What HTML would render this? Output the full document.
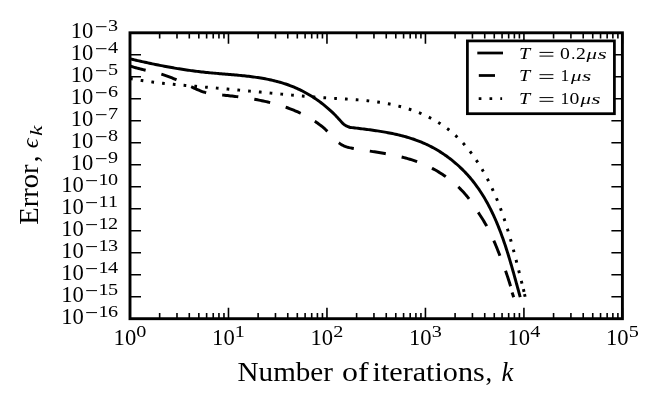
<!DOCTYPE html>
<html><head><meta charset="utf-8"><title>Error vs iterations</title>
<style>html,body{margin:0;padding:0;background:#fff;}svg{display:block;will-change:transform;filter:grayscale(1);}text{font-family:"Liberation Serif", serif;fill:#000;}</style>
</head><body>
<svg width="664" height="410" viewBox="0 0 664 410">
<rect x="0" y="0" width="664" height="410" fill="#fff"/>
<defs><clipPath id="ax"><rect x="130.00" y="32.80" width="492.40" height="285.90"/></clipPath></defs>
<g clip-path="url(#ax)" fill="none" stroke="#000" stroke-width="2.95" stroke-linejoin="round">
<path d="M129.96,58.83 L131.47,59.18 L132.97,59.53 L134.47,59.88 L135.97,60.23 L137.47,60.57 L138.97,60.91 L140.47,61.24 L141.96,61.58 L143.45,61.91 L144.94,62.24 L146.44,62.56 L147.92,62.88 L149.41,63.20 L150.90,63.52 L152.39,63.83 L153.87,64.14 L155.36,64.44 L156.85,64.75 L158.33,65.04 L159.81,65.34 L161.30,65.63 L162.78,65.92 L164.27,66.20 L165.75,66.48 L167.23,66.76 L168.72,67.03 L170.20,67.30 L171.68,67.56 L173.17,67.82 L174.65,68.08 L176.14,68.33 L177.62,68.58 L179.11,68.82 L180.60,69.06 L182.09,69.30 L183.57,69.53 L185.06,69.76 L186.56,69.98 L188.05,70.19 L189.54,70.41 L191.04,70.61 L192.53,70.82 L194.03,71.01 L195.53,71.21 L197.03,71.39 L198.53,71.58 L200.04,71.75 L201.54,71.93 L203.05,72.09 L204.56,72.26 L206.07,72.41 L207.59,72.57 L209.10,72.71 L210.62,72.86 L212.14,73.00 L213.66,73.13 L215.18,73.27 L216.71,73.40 L218.23,73.53 L219.75,73.66 L221.28,73.78 L222.81,73.91 L224.33,74.04 L225.86,74.16 L227.39,74.29 L228.92,74.42 L230.44,74.54 L231.97,74.67 L233.50,74.81 L235.03,74.94 L236.55,75.08 L238.08,75.22 L239.60,75.37 L241.12,75.52 L242.65,75.67 L244.17,75.83 L245.69,76.00 L247.20,76.17 L248.72,76.34 L250.24,76.53 L251.75,76.72 L253.26,76.92 L254.77,77.12 L256.27,77.34 L257.78,77.56 L259.28,77.79 L260.78,78.03 L262.27,78.29 L263.76,78.55 L265.25,78.82 L266.74,79.11 L268.22,79.40 L269.70,79.71 L271.17,80.03 L272.64,80.37 L274.11,80.71 L275.57,81.07 L277.03,81.45 L278.49,81.84 L279.94,82.24 L281.38,82.66 L282.82,83.10 L284.26,83.55 L285.69,84.02 L287.11,84.50 L288.53,85.01 L289.95,85.53 L291.35,86.07 L292.76,86.62 L294.15,87.20 L295.54,87.79 L296.93,88.41 L298.31,89.04 L299.68,89.69 L301.04,90.35 L302.40,91.03 L303.74,91.73 L305.09,92.45 L306.42,93.18 L307.74,93.93 L309.06,94.70 L310.36,95.48 L311.66,96.28 L312.95,97.10 L314.23,97.93 L315.50,98.77 L316.76,99.64 L318.01,100.51 L319.25,101.40 L320.48,102.31 L321.70,103.23 L322.90,104.16 L324.10,105.11 L325.28,106.07 L326.46,107.05 L327.62,108.04 L328.76,109.04 L329.90,110.06 L331.02,111.09 L332.13,112.13 L333.23,113.18 L334.31,114.25 L335.39,115.33 L336.44,116.42 L337.48,117.52 L338.51,118.64 L339.53,119.76 L340.52,120.90 L341.52,122.03 L342.55,123.12 L343.64,124.14 L344.82,125.06 L346.11,125.85 L347.56,126.46 L349.18,126.88 L349.14,127.26 L350.60,127.44 L352.06,127.61 L353.53,127.78 L355.00,127.96 L356.47,128.13 L357.95,128.31 L359.43,128.49 L360.92,128.67 L362.41,128.85 L363.90,129.04 L365.39,129.23 L366.89,129.42 L368.39,129.62 L369.89,129.82 L371.39,130.02 L372.89,130.23 L374.39,130.45 L375.90,130.67 L377.40,130.89 L378.91,131.13 L380.41,131.37 L381.92,131.61 L383.42,131.87 L384.92,132.13 L386.43,132.40 L387.93,132.68 L389.43,132.96 L390.92,133.26 L392.42,133.56 L393.91,133.88 L395.40,134.20 L396.89,134.54 L398.37,134.89 L399.85,135.24 L401.33,135.61 L402.80,135.99 L404.27,136.39 L405.74,136.79 L407.20,137.21 L408.65,137.64 L410.10,138.09 L411.55,138.55 L412.99,139.02 L414.42,139.51 L415.85,140.02 L417.27,140.54 L418.68,141.07 L420.09,141.62 L421.49,142.19 L422.88,142.77 L424.26,143.37 L425.64,143.99 L427.01,144.63 L428.37,145.28 L429.72,145.95 L431.06,146.63 L432.40,147.34 L433.72,148.05 L435.04,148.79 L436.35,149.53 L437.65,150.30 L438.94,151.08 L440.22,151.87 L441.49,152.68 L442.75,153.51 L444.00,154.35 L445.24,155.20 L446.47,156.07 L447.69,156.96 L448.90,157.85 L450.10,158.76 L451.29,159.69 L452.47,160.63 L453.64,161.58 L454.79,162.54 L455.94,163.52 L457.07,164.51 L458.19,165.51 L459.30,166.53 L460.40,167.56 L461.49,168.60 L462.56,169.65 L463.62,170.72 L464.67,171.79 L465.71,172.88 L466.73,173.98 L467.75,175.09 L468.74,176.21 L469.73,177.34 L470.70,178.49 L471.66,179.64 L472.61,180.80 L473.54,181.98 L474.46,183.16 L475.36,184.35 L476.26,185.56 L477.14,186.77 L478.00,187.99 L478.86,189.22 L479.70,190.46 L480.53,191.71 L481.35,192.97 L482.16,194.23 L482.95,195.51 L483.74,196.79 L484.51,198.08 L485.27,199.38 L486.02,200.68 L486.76,202.00 L487.49,203.31 L488.20,204.64 L488.91,205.97 L489.61,207.31 L490.30,208.66 L490.98,210.01 L491.64,211.37 L492.30,212.74 L492.95,214.11 L493.59,215.48 L494.22,216.86 L494.85,218.25 L495.46,219.64 L496.06,221.03 L496.66,222.43 L497.25,223.84 L497.83,225.25 L498.40,226.66 L498.97,228.08 L499.52,229.50 L500.08,230.92 L500.62,232.35 L501.15,233.78 L501.68,235.22 L502.20,236.65 L502.72,238.09 L503.23,239.54 L503.73,240.98 L504.23,242.43 L504.72,243.87 L505.21,245.32 L505.69,246.78 L506.16,248.23 L506.63,249.68 L507.09,251.14 L507.55,252.59 L508.01,254.05 L508.46,255.51 L508.90,256.97 L509.34,258.42 L509.78,259.88 L510.21,261.34 L510.64,262.80 L511.07,264.25 L511.49,265.71 L511.91,267.16 L512.33,268.62 L512.74,270.07 L513.15,271.52 L513.56,272.97 L513.96,274.42 L514.37,275.86 L514.77,277.30 L515.17,278.74 L515.57,280.18 L515.96,281.62 L516.35,283.05 L516.75,284.48 L517.14,285.91 L517.53,287.33 L517.92,288.75 L518.31,290.16 L518.70,291.58 L519.09,292.98 L519.48,294.39 L519.86,295.78 L520.25,297.18"/>
<path d="M130.00,65.99 L131.42,66.47 L132.85,66.92 L134.29,67.35 L135.74,67.76 L137.19,68.15 L138.66,68.53 L140.12,68.90 L141.59,69.26 L143.07,69.60 L144.55,69.94 L146.02,70.28 L147.51,70.62 L148.99,70.95 L150.47,71.29 L151.95,71.63 L153.42,71.98 L154.89,72.34 L156.36,72.71 L157.83,73.10 L159.28,73.50 L160.74,73.91 L162.18,74.35 L163.61,74.81 L165.04,75.29 L166.46,75.78 L167.87,76.30 L169.28,76.83 L170.68,77.38 L172.07,77.94 L173.46,78.52 L174.85,79.11 L176.23,79.71 L177.60,80.32 L178.98,80.94 L180.35,81.57 L181.71,82.21 L183.08,82.85 L184.44,83.49 L185.81,84.14 L187.17,84.79 L188.53,85.45 L189.89,86.10 L191.26,86.75 L192.62,87.40 L193.99,88.05 L195.36,88.68 L196.73,89.30 L198.11,89.90 L199.50,90.48 L200.90,91.02 L202.31,91.54 L203.73,92.02 L205.16,92.45 L206.61,92.84 L208.07,93.18 L209.54,93.48 L211.02,93.75 L212.51,93.98 L214.01,94.19 L215.51,94.37 L217.02,94.54 L218.53,94.69 L220.04,94.84 L221.56,94.99 L223.07,95.13 L224.57,95.28 L226.08,95.44 L227.58,95.59 L229.09,95.75 L230.59,95.92 L232.08,96.08 L233.58,96.25 L235.08,96.43 L236.57,96.61 L238.07,96.80 L239.56,96.99 L241.05,97.18 L242.54,97.39 L244.03,97.60 L245.52,97.81 L247.01,98.03 L248.50,98.26 L249.98,98.50 L251.47,98.74 L252.96,98.99 L254.44,99.25 L255.93,99.52 L257.41,99.80 L258.90,100.09 L260.38,100.38 L261.86,100.69 L263.34,101.00 L264.82,101.32 L266.30,101.66 L267.77,102.00 L269.25,102.36 L270.72,102.72 L272.18,103.10 L273.65,103.48 L275.11,103.88 L276.57,104.29 L278.02,104.71 L279.47,105.15 L280.91,105.59 L282.35,106.05 L283.79,106.52 L285.22,107.00 L286.65,107.50 L288.07,108.01 L289.48,108.54 L290.89,109.07 L292.29,109.62 L293.69,110.19 L295.08,110.77 L296.46,111.36 L297.84,111.97 L299.20,112.60 L300.56,113.24 L301.92,113.89 L303.26,114.57 L304.60,115.25 L305.93,115.96 L307.25,116.68 L308.56,117.41 L309.86,118.17 L311.15,118.94 L312.43,119.72 L313.70,120.53 L314.96,121.35 L316.21,122.20 L317.45,123.06 L318.68,123.94 L319.89,124.84 L321.09,125.77 L322.28,126.72 L323.45,127.70 L324.60,128.71 L325.73,129.75 L326.84,130.81 L327.93,131.91 L329.01,133.03 L330.07,134.17 L331.13,135.32 L332.18,136.46 L333.24,137.60 L334.30,138.71 L335.38,139.79 L336.48,140.83 L337.61,141.82 L338.76,142.76 L339.95,143.62 L341.17,144.42 L342.44,145.13 L343.73,145.78 L345.07,146.34 L346.45,146.82 L347.85,147.23 L349.29,147.59 L350.74,147.90 L352.21,148.19 L353.68,148.46 L355.16,148.72 L356.63,148.98 L358.11,149.23 L359.60,149.48 L361.08,149.72 L362.57,149.96 L364.05,150.20 L365.54,150.43 L367.03,150.67 L368.52,150.90 L370.01,151.13 L371.50,151.37 L372.99,151.60 L374.48,151.83 L375.97,152.07 L377.46,152.31 L378.95,152.55 L380.44,152.79 L381.93,153.04 L383.42,153.30 L384.91,153.56 L386.39,153.82 L387.88,154.09 L389.36,154.37 L390.84,154.65 L392.32,154.94 L393.80,155.24 L395.27,155.55 L396.74,155.87 L398.21,156.20 L399.68,156.54 L401.15,156.89 L402.61,157.25 L404.07,157.63 L405.52,158.01 L406.97,158.41 L408.42,158.83 L409.86,159.26 L411.30,159.70 L412.74,160.16 L414.17,160.63 L415.60,161.13 L417.02,161.64 L418.43,162.16 L419.85,162.71 L421.25,163.27 L422.65,163.85 L424.05,164.44 L425.43,165.06 L426.81,165.69 L428.19,166.34 L429.55,167.00 L430.91,167.68 L432.26,168.38 L433.60,169.09 L434.93,169.83 L436.26,170.57 L437.57,171.34 L438.87,172.12 L440.17,172.91 L441.45,173.73 L442.72,174.56 L443.98,175.40 L445.23,176.26 L446.47,177.14 L447.70,178.03 L448.91,178.94 L450.11,179.86 L451.30,180.80 L452.47,181.75 L453.63,182.72 L454.78,183.70 L455.91,184.70 L457.02,185.72 L458.13,186.74 L459.21,187.79 L460.28,188.85 L461.34,189.92 L462.37,191.01 L463.39,192.11 L464.40,193.22 L465.39,194.35 L466.35,195.50 L467.31,196.65 L468.24,197.83 L469.15,199.01 L470.05,200.21 L470.93,201.42 L471.79,202.64 L472.65,203.87 L473.49,205.11 L474.32,206.36 L475.15,207.62 L475.98,208.87 L476.80,210.14 L477.62,211.40 L478.44,212.67 L479.26,213.94 L480.08,215.21 L480.90,216.48 L481.71,217.76 L482.51,219.04 L483.31,220.33 L484.10,221.62 L484.87,222.92 L485.63,224.22 L486.38,225.54 L487.11,226.86 L487.83,228.19 L488.53,229.52 L489.22,230.86 L489.90,232.21 L490.56,233.56 L491.21,234.92 L491.85,236.29 L492.48,237.66 L493.10,239.04 L493.70,240.42 L494.30,241.80 L494.90,243.19 L495.48,244.58 L496.06,245.97 L496.63,247.37 L497.19,248.77 L497.75,250.18 L498.31,251.58 L498.86,252.99 L499.41,254.39 L499.95,255.80 L500.49,257.21 L501.03,258.62 L501.57,260.03 L502.11,261.44 L502.64,262.86 L503.16,264.27 L503.69,265.69 L504.21,267.10 L504.72,268.52 L505.23,269.94 L505.73,271.36 L506.23,272.79 L506.72,274.21 L507.21,275.64 L507.69,277.07 L508.16,278.50 L508.63,279.93 L509.08,281.37 L509.53,282.81 L509.98,284.25 L510.41,285.69 L510.84,287.14 L511.26,288.59 L511.67,290.04 L512.07,291.49 L512.46,292.95 L512.84,294.41 L513.21,295.87 L513.57,297.34" stroke-dasharray="16.2 16.2"/>
<path d="M130.02,78.54 L131.50,78.82 L132.99,79.09 L134.48,79.35 L135.96,79.60 L137.45,79.85 L138.94,80.09 L140.43,80.33 L141.92,80.56 L143.41,80.79 L144.90,81.01 L146.40,81.22 L147.89,81.43 L149.38,81.63 L150.88,81.83 L152.37,82.02 L153.87,82.21 L155.36,82.40 L156.86,82.58 L158.35,82.75 L159.85,82.93 L161.35,83.10 L162.85,83.26 L164.34,83.42 L165.84,83.58 L167.34,83.74 L168.84,83.89 L170.34,84.04 L171.84,84.19 L173.34,84.33 L174.84,84.47 L176.35,84.61 L177.85,84.75 L179.35,84.89 L180.85,85.02 L182.35,85.16 L183.86,85.29 L185.36,85.42 L186.86,85.55 L188.36,85.68 L189.87,85.81 L191.37,85.94 L192.88,86.07 L194.38,86.20 L195.88,86.32 L197.39,86.45 L198.89,86.58 L200.39,86.71 L201.90,86.84 L203.40,86.97 L204.91,87.09 L206.41,87.22 L207.92,87.35 L209.42,87.48 L210.92,87.61 L212.43,87.74 L213.93,87.87 L215.44,88.00 L216.94,88.13 L218.45,88.26 L219.95,88.39 L221.45,88.53 L222.96,88.66 L224.46,88.79 L225.97,88.92 L227.47,89.05 L228.97,89.19 L230.48,89.32 L231.98,89.45 L233.48,89.59 L234.99,89.72 L236.49,89.86 L237.99,89.99 L239.49,90.13 L241.00,90.27 L242.50,90.40 L244.00,90.54 L245.50,90.68 L247.00,90.82 L248.51,90.96 L250.01,91.10 L251.51,91.24 L253.01,91.38 L254.51,91.52 L256.01,91.66 L257.51,91.81 L259.01,91.95 L260.51,92.09 L262.00,92.24 L263.50,92.38 L265.00,92.53 L266.50,92.67 L268.00,92.82 L269.49,92.97 L270.99,93.11 L272.49,93.26 L273.99,93.41 L275.48,93.56 L276.98,93.70 L278.48,93.85 L279.97,93.99 L281.47,94.14 L282.97,94.29 L284.46,94.43 L285.96,94.57 L287.46,94.72 L288.96,94.86 L290.45,95.00 L291.95,95.14 L293.45,95.28 L294.95,95.42 L296.44,95.56 L297.94,95.69 L299.44,95.83 L300.94,95.96 L302.44,96.09 L303.94,96.22 L305.44,96.35 L306.94,96.47 L308.44,96.60 L309.94,96.72 L311.44,96.84 L312.95,96.96 L314.45,97.07 L315.95,97.19 L317.46,97.30 L318.96,97.41 L320.47,97.51 L321.97,97.62 L323.48,97.72 L324.99,97.82 L326.49,97.91 L328.00,98.00 L329.51,98.09 L331.02,98.18 L332.53,98.27 L334.04,98.36 L335.55,98.44 L337.06,98.53 L338.58,98.62 L340.09,98.70 L341.60,98.79 L343.11,98.88 L344.62,98.97 L346.13,99.06 L347.65,99.15 L349.16,99.25 L350.67,99.35 L352.18,99.45 L353.69,99.55 L355.20,99.66 L356.71,99.78 L358.22,99.90 L359.73,100.02 L361.24,100.15 L362.74,100.28 L364.25,100.42 L365.76,100.57 L367.26,100.72 L368.77,100.88 L370.27,101.05 L371.77,101.22 L373.27,101.40 L374.77,101.59 L376.27,101.79 L377.77,102.00 L379.26,102.22 L380.76,102.45 L382.25,102.69 L383.75,102.94 L385.24,103.20 L386.72,103.47 L388.21,103.75 L389.70,104.04 L391.18,104.35 L392.66,104.67 L394.14,105.00 L395.62,105.34 L397.09,105.70 L398.56,106.06 L400.03,106.45 L401.49,106.84 L402.95,107.25 L404.41,107.67 L405.86,108.10 L407.31,108.54 L408.75,109.00 L410.19,109.48 L411.62,109.96 L413.04,110.46 L414.46,110.98 L415.88,111.51 L417.28,112.05 L418.68,112.60 L420.08,113.17 L421.46,113.76 L422.84,114.36 L424.21,114.97 L425.58,115.60 L426.93,116.24 L428.28,116.90 L429.62,117.57 L430.95,118.26 L432.27,118.96 L433.58,119.68 L434.88,120.41 L436.17,121.16 L437.45,121.92 L438.72,122.70 L439.98,123.50 L441.23,124.31 L442.47,125.14 L443.69,125.98 L444.91,126.84 L446.11,127.72 L447.30,128.61 L448.48,129.52 L449.64,130.45 L450.79,131.39 L451.93,132.35 L453.06,133.32 L454.17,134.31 L455.28,135.31 L456.37,136.33 L457.45,137.36 L458.51,138.41 L459.57,139.47 L460.61,140.54 L461.64,141.63 L462.66,142.73 L463.67,143.84 L464.66,144.97 L465.64,146.10 L466.62,147.25 L467.58,148.41 L468.53,149.58 L469.47,150.76 L470.39,151.96 L471.31,153.16 L472.21,154.37 L473.11,155.59 L473.99,156.83 L474.86,158.07 L475.73,159.32 L476.58,160.57 L477.42,161.84 L478.25,163.11 L479.07,164.40 L479.87,165.68 L480.67,166.98 L481.46,168.28 L482.24,169.59 L483.01,170.90 L483.77,172.23 L484.51,173.55 L485.25,174.88 L485.98,176.22 L486.70,177.56 L487.41,178.90 L488.11,180.25 L488.80,181.61 L489.48,182.96 L490.15,184.32 L490.81,185.69 L491.46,187.05 L492.11,188.42 L492.74,189.80 L493.37,191.17 L493.99,192.55 L494.60,193.94 L495.20,195.33 L495.79,196.72 L496.38,198.11 L496.96,199.50 L497.53,200.90 L498.09,202.30 L498.65,203.71 L499.20,205.12 L499.74,206.52 L500.28,207.94 L500.80,209.35 L501.32,210.77 L501.84,212.19 L502.35,213.61 L502.85,215.03 L503.35,216.46 L503.84,217.89 L504.32,219.32 L504.80,220.75 L505.27,222.18 L505.74,223.62 L506.20,225.06 L506.66,226.50 L507.11,227.94 L507.56,229.38 L508.00,230.82 L508.44,232.27 L508.87,233.72 L509.30,235.16 L509.73,236.61 L510.15,238.06 L510.56,239.51 L510.98,240.97 L511.39,242.42 L511.79,243.88 L512.19,245.33 L512.59,246.79 L512.99,248.24 L513.38,249.70 L513.77,251.16 L514.16,252.62 L514.54,254.08 L514.93,255.54 L515.31,257.00 L515.68,258.46 L516.06,259.92 L516.43,261.38 L516.81,262.84 L517.18,264.30 L517.55,265.76 L517.91,267.22 L518.28,268.68 L518.64,270.14 L519.01,271.60 L519.37,273.06 L519.74,274.52 L520.10,275.98 L520.46,277.43 L520.82,278.89 L521.18,280.35 L521.54,281.80 L521.91,283.26 L522.27,284.71 L522.63,286.17" stroke-dasharray="2.7 8.1"/>
<path d="M523.40,289.18 L524.00,291.82"/>
<path d="M524.50,294.08 L525.10,296.72"/>
<path d="M512.1,292.6 L513.7,297.3"/>
</g>
<g stroke="#000" stroke-width="1.60" fill="none">
<path d="M130.00,318.70 v-11.00 M130.00,32.80 v11.00"/>
<path d="M159.65,318.70 v-5.80 M159.65,32.80 v5.80"/>
<path d="M176.99,318.70 v-5.80 M176.99,32.80 v5.80"/>
<path d="M189.29,318.70 v-5.80 M189.29,32.80 v5.80"/>
<path d="M198.83,318.70 v-5.80 M198.83,32.80 v5.80"/>
<path d="M206.63,318.70 v-5.80 M206.63,32.80 v5.80"/>
<path d="M213.23,318.70 v-5.80 M213.23,32.80 v5.80"/>
<path d="M218.94,318.70 v-5.80 M218.94,32.80 v5.80"/>
<path d="M223.97,318.70 v-5.80 M223.97,32.80 v5.80"/>
<path d="M228.48,318.70 v-11.00 M228.48,32.80 v11.00"/>
<path d="M258.13,318.70 v-5.80 M258.13,32.80 v5.80"/>
<path d="M275.47,318.70 v-5.80 M275.47,32.80 v5.80"/>
<path d="M287.77,318.70 v-5.80 M287.77,32.80 v5.80"/>
<path d="M297.31,318.70 v-5.80 M297.31,32.80 v5.80"/>
<path d="M305.11,318.70 v-5.80 M305.11,32.80 v5.80"/>
<path d="M311.71,318.70 v-5.80 M311.71,32.80 v5.80"/>
<path d="M317.42,318.70 v-5.80 M317.42,32.80 v5.80"/>
<path d="M322.45,318.70 v-5.80 M322.45,32.80 v5.80"/>
<path d="M326.96,318.70 v-11.00 M326.96,32.80 v11.00"/>
<path d="M356.61,318.70 v-5.80 M356.61,32.80 v5.80"/>
<path d="M373.95,318.70 v-5.80 M373.95,32.80 v5.80"/>
<path d="M386.25,318.70 v-5.80 M386.25,32.80 v5.80"/>
<path d="M395.79,318.70 v-5.80 M395.79,32.80 v5.80"/>
<path d="M403.59,318.70 v-5.80 M403.59,32.80 v5.80"/>
<path d="M410.19,318.70 v-5.80 M410.19,32.80 v5.80"/>
<path d="M415.90,318.70 v-5.80 M415.90,32.80 v5.80"/>
<path d="M420.93,318.70 v-5.80 M420.93,32.80 v5.80"/>
<path d="M425.44,318.70 v-11.00 M425.44,32.80 v11.00"/>
<path d="M455.09,318.70 v-5.80 M455.09,32.80 v5.80"/>
<path d="M472.43,318.70 v-5.80 M472.43,32.80 v5.80"/>
<path d="M484.73,318.70 v-5.80 M484.73,32.80 v5.80"/>
<path d="M494.27,318.70 v-5.80 M494.27,32.80 v5.80"/>
<path d="M502.07,318.70 v-5.80 M502.07,32.80 v5.80"/>
<path d="M508.67,318.70 v-5.80 M508.67,32.80 v5.80"/>
<path d="M514.38,318.70 v-5.80 M514.38,32.80 v5.80"/>
<path d="M519.41,318.70 v-5.80 M519.41,32.80 v5.80"/>
<path d="M523.92,318.70 v-11.00 M523.92,32.80 v11.00"/>
<path d="M553.57,318.70 v-5.80 M553.57,32.80 v5.80"/>
<path d="M570.91,318.70 v-5.80 M570.91,32.80 v5.80"/>
<path d="M583.21,318.70 v-5.80 M583.21,32.80 v5.80"/>
<path d="M592.75,318.70 v-5.80 M592.75,32.80 v5.80"/>
<path d="M600.55,318.70 v-5.80 M600.55,32.80 v5.80"/>
<path d="M607.15,318.70 v-5.80 M607.15,32.80 v5.80"/>
<path d="M612.86,318.70 v-5.80 M612.86,32.80 v5.80"/>
<path d="M617.89,318.70 v-5.80 M617.89,32.80 v5.80"/>
<path d="M622.40,318.70 v-11.00 M622.40,32.80 v11.00"/>
<path d="M130.00,32.80 h11.00 M622.40,32.80 h-11.00"/>
<path d="M130.00,54.79 h11.00 M622.40,54.79 h-11.00"/>
<path d="M130.00,76.78 h11.00 M622.40,76.78 h-11.00"/>
<path d="M130.00,98.78 h11.00 M622.40,98.78 h-11.00"/>
<path d="M130.00,120.77 h11.00 M622.40,120.77 h-11.00"/>
<path d="M130.00,142.76 h11.00 M622.40,142.76 h-11.00"/>
<path d="M130.00,164.75 h11.00 M622.40,164.75 h-11.00"/>
<path d="M130.00,186.75 h11.00 M622.40,186.75 h-11.00"/>
<path d="M130.00,208.74 h11.00 M622.40,208.74 h-11.00"/>
<path d="M130.00,230.73 h11.00 M622.40,230.73 h-11.00"/>
<path d="M130.00,252.72 h11.00 M622.40,252.72 h-11.00"/>
<path d="M130.00,274.72 h11.00 M622.40,274.72 h-11.00"/>
<path d="M130.00,296.71 h11.00 M622.40,296.71 h-11.00"/>
<path d="M130.00,318.70 h11.00 M622.40,318.70 h-11.00"/>
</g>
<rect x="467.40" y="40.90" width="147.00" height="72.80" fill="#fff" stroke="#000" stroke-width="2.75"/>
<g stroke="#000" stroke-width="2.75" fill="none">
<path d="M477.3,53 H503"/>
<path d="M478.8,75.5 H503" stroke-dasharray="16.2 16.2"/>
<path d="M478.7,98.6 H502.1" stroke-dasharray="2.7 8.1"/>
</g>
<text transform="translate(519.00 58.60) scale(1.260 1.000)" font-size="16.00" font-style="italic">T</text>
<path d="M539.50,52.40 H553.40 M539.50,56.10 H553.40" stroke="#000" stroke-width="1.0" fill="none"/>
<text transform="translate(560.00 58.60) scale(1.230 1.000)" font-size="16.00">0</text>
<text transform="translate(571.20 58.60) scale(1.000 1.000)" font-size="16.00">.</text>
<text transform="translate(576.00 58.60) scale(1.230 1.000)" font-size="16.00">2</text>
<text transform="translate(586.60 58.60) scale(1.500 1.000)" font-size="13.90" font-style="italic">μ</text>
<text transform="translate(597.40 58.60) scale(1.720 1.000)" font-size="13.90" font-style="italic">s</text>
<text transform="translate(519.00 80.90) scale(1.260 1.000)" font-size="16.00" font-style="italic">T</text>
<path d="M539.50,74.70 H553.40 M539.50,78.40 H553.40" stroke="#000" stroke-width="1.0" fill="none"/>
<text transform="translate(560.60 80.90) scale(1.100 1.000)" font-size="16.00">1</text>
<text transform="translate(571.00 80.90) scale(1.500 1.000)" font-size="13.90" font-style="italic">μ</text>
<text transform="translate(582.00 80.90) scale(1.720 1.000)" font-size="13.90" font-style="italic">s</text>
<text transform="translate(519.00 103.80) scale(1.260 1.000)" font-size="16.00" font-style="italic">T</text>
<path d="M539.50,97.60 H553.40 M539.50,101.30 H553.40" stroke="#000" stroke-width="1.0" fill="none"/>
<text transform="translate(560.60 103.80) scale(1.100 1.000)" font-size="16.00">1</text>
<text transform="translate(569.60 103.80) scale(1.230 1.000)" font-size="16.00">0</text>
<text transform="translate(580.50 103.80) scale(1.500 1.000)" font-size="13.90" font-style="italic">μ</text>
<text transform="translate(591.30 103.80) scale(1.720 1.000)" font-size="13.90" font-style="italic">s</text>
<rect x="130.00" y="32.80" width="492.40" height="285.90" fill="none" stroke="#000" stroke-width="2.90"/>
<text transform="translate(113.60 345.00) scale(1.010 1.000)" font-size="22.40">10</text>
<text transform="translate(136.30 336.90) scale(1.270 1.000)" font-size="15.90">0</text>
<text transform="translate(212.08 345.00) scale(1.010 1.000)" font-size="22.40">10</text>
<text transform="translate(234.78 336.90) scale(1.270 1.000)" font-size="15.90">1</text>
<text transform="translate(310.56 345.00) scale(1.010 1.000)" font-size="22.40">10</text>
<text transform="translate(333.26 336.90) scale(1.270 1.000)" font-size="15.90">2</text>
<text transform="translate(409.04 345.00) scale(1.010 1.000)" font-size="22.40">10</text>
<text transform="translate(431.74 336.90) scale(1.270 1.000)" font-size="15.90">3</text>
<text transform="translate(507.52 345.00) scale(1.010 1.000)" font-size="22.40">10</text>
<text transform="translate(530.22 336.90) scale(1.270 1.000)" font-size="15.90">4</text>
<text transform="translate(606.00 345.00) scale(1.010 1.000)" font-size="22.40">10</text>
<text transform="translate(628.70 336.90) scale(1.270 1.000)" font-size="15.90">5</text>
<text transform="translate(70.70 38.10) scale(1.010 1.000)" font-size="22.40">10</text>
<path d="M96.0,26.70 H106.5" stroke="#000" stroke-width="1.0"/>
<text transform="translate(108.00 30.70) scale(1.270 1.000)" font-size="15.90">3</text>
<text transform="translate(70.70 60.09) scale(1.010 1.000)" font-size="22.40">10</text>
<path d="M96.0,48.69 H106.5" stroke="#000" stroke-width="1.0"/>
<text transform="translate(108.00 52.69) scale(1.270 1.000)" font-size="15.90">4</text>
<text transform="translate(70.70 82.08) scale(1.010 1.000)" font-size="22.40">10</text>
<path d="M96.0,70.68 H106.5" stroke="#000" stroke-width="1.0"/>
<text transform="translate(108.00 74.68) scale(1.270 1.000)" font-size="15.90">5</text>
<text transform="translate(70.70 104.08) scale(1.010 1.000)" font-size="22.40">10</text>
<path d="M96.0,92.68 H106.5" stroke="#000" stroke-width="1.0"/>
<text transform="translate(108.00 96.68) scale(1.270 1.000)" font-size="15.90">6</text>
<text transform="translate(70.70 126.07) scale(1.010 1.000)" font-size="22.40">10</text>
<path d="M96.0,114.67 H106.5" stroke="#000" stroke-width="1.0"/>
<text transform="translate(108.00 118.67) scale(1.270 1.000)" font-size="15.90">7</text>
<text transform="translate(70.70 148.06) scale(1.010 1.000)" font-size="22.40">10</text>
<path d="M96.0,136.66 H106.5" stroke="#000" stroke-width="1.0"/>
<text transform="translate(108.00 140.66) scale(1.270 1.000)" font-size="15.90">8</text>
<text transform="translate(70.70 170.05) scale(1.010 1.000)" font-size="22.40">10</text>
<path d="M96.0,158.65 H106.5" stroke="#000" stroke-width="1.0"/>
<text transform="translate(108.00 162.65) scale(1.270 1.000)" font-size="15.90">9</text>
<text transform="translate(61.30 192.05) scale(1.010 1.000)" font-size="22.40">10</text>
<path d="M86.2,180.65 H97.0" stroke="#000" stroke-width="1.0"/>
<text transform="translate(98.60 184.65) scale(1.270 1.000)" font-size="15.90">1</text>
<text transform="translate(108.00 184.65) scale(1.270 1.000)" font-size="15.90">0</text>
<text transform="translate(61.30 214.04) scale(1.010 1.000)" font-size="22.40">10</text>
<path d="M86.2,202.64 H97.0" stroke="#000" stroke-width="1.0"/>
<text transform="translate(98.60 206.64) scale(1.270 1.000)" font-size="15.90">1</text>
<text transform="translate(108.00 206.64) scale(1.270 1.000)" font-size="15.90">1</text>
<text transform="translate(61.30 236.03) scale(1.010 1.000)" font-size="22.40">10</text>
<path d="M86.2,224.63 H97.0" stroke="#000" stroke-width="1.0"/>
<text transform="translate(98.60 228.63) scale(1.270 1.000)" font-size="15.90">1</text>
<text transform="translate(108.00 228.63) scale(1.270 1.000)" font-size="15.90">2</text>
<text transform="translate(61.30 258.02) scale(1.010 1.000)" font-size="22.40">10</text>
<path d="M86.2,246.62 H97.0" stroke="#000" stroke-width="1.0"/>
<text transform="translate(98.60 250.62) scale(1.270 1.000)" font-size="15.90">1</text>
<text transform="translate(108.00 250.62) scale(1.270 1.000)" font-size="15.90">3</text>
<text transform="translate(61.30 280.02) scale(1.010 1.000)" font-size="22.40">10</text>
<path d="M86.2,268.62 H97.0" stroke="#000" stroke-width="1.0"/>
<text transform="translate(98.60 272.62) scale(1.270 1.000)" font-size="15.90">1</text>
<text transform="translate(108.00 272.62) scale(1.270 1.000)" font-size="15.90">4</text>
<text transform="translate(61.30 302.01) scale(1.010 1.000)" font-size="22.40">10</text>
<path d="M86.2,290.61 H97.0" stroke="#000" stroke-width="1.0"/>
<text transform="translate(98.60 294.61) scale(1.270 1.000)" font-size="15.90">1</text>
<text transform="translate(108.00 294.61) scale(1.270 1.000)" font-size="15.90">5</text>
<text transform="translate(61.30 324.00) scale(1.010 1.000)" font-size="22.40">10</text>
<path d="M86.2,312.60 H97.0" stroke="#000" stroke-width="1.0"/>
<text transform="translate(98.60 316.60) scale(1.270 1.000)" font-size="15.90">1</text>
<text transform="translate(108.00 316.60) scale(1.270 1.000)" font-size="15.90">6</text>
<text transform="translate(237.60 381.30) scale(1.095 1.000)" font-size="26.60">Number</text>
<text transform="translate(342.00 381.30) scale(1.200 1.000)" font-size="26.60">of</text>
<text transform="translate(372.50 381.30) scale(1.135 1.000)" font-size="26.60">iterations</text>
<text transform="translate(485.40 381.30) scale(1.000 1.000)" font-size="26.60">,</text>
<text transform="translate(501.50 381.30) scale(1.000 1.000)" font-size="26.60" font-style="italic">k</text>
<g transform="translate(37.6,224.8) rotate(-90)">
<text transform="translate(0.00 0.00) scale(1.078 1.000)" font-size="26.60">Error</text>
<text transform="translate(62.50 0.00) scale(1.000 1.000)" font-size="26.60">,</text>
<text transform="translate(76.60 0.00) scale(1.000 1.000)" font-size="24.00" font-style="italic">ϵ</text>
<text transform="translate(88.70 4.00) scale(1.500 1.000)" font-size="15.80" font-style="italic">k</text>
</g>
</svg></body></html>
